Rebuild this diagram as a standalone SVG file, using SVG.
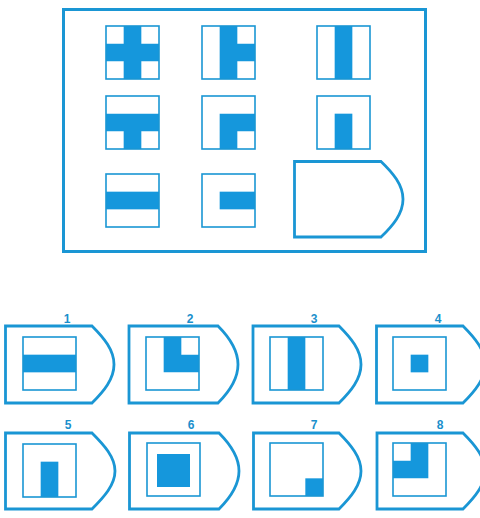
<svg xmlns="http://www.w3.org/2000/svg" width="480" height="518" viewBox="0 0 480 518">
<style>
.frame{fill:none;stroke:#1a96d4;stroke-width:3}
.sh{fill:#fff;stroke:#1a96d4;stroke-width:2.8;stroke-linejoin:miter}
.cell{fill:none;stroke:#1a96d4;stroke-width:1.6}
.b{fill:#1597dc}
.lbl{font-family:"Liberation Sans",Arial,sans-serif;font-weight:bold;font-size:12px;fill:#1a8fcc;text-anchor:middle}
</style>
<rect x="0" y="0" width="480" height="518" fill="#fff"/>
<g id="matrix">
<rect class="frame" x="63.5" y="9.5" width="362" height="242"/>
<g id="m11" transform="translate(106,26)"><path class="b" d="M17.67,0 H35.33 V17.67 H53 V35.33 H35.33 V53 H17.67 V35.33 H0 V17.67 H17.67 Z"/><rect class="cell" width="53" height="53"/></g>
<g id="m12" transform="translate(202,26)"><path class="b" d="M17.67,0 H35.33 V17.67 H53 V35.33 H35.33 V53 H17.67 Z"/><rect class="cell" width="53" height="53"/></g>
<g id="m13" transform="translate(317,26)"><rect class="b" x="17.67" y="0" width="17.67" height="53"/><rect class="cell" width="53" height="53"/></g>
<g id="m21" transform="translate(106,96)"><path class="b" d="M0,17.67 H53 V35.33 H35.33 V53 H17.67 V35.33 H0 Z"/><rect class="cell" width="53" height="53"/></g>
<g id="m22" transform="translate(202,96)"><path class="b" d="M17.67,17.67 H53 V35.33 H35.33 V53 H17.67 Z"/><rect class="cell" width="53" height="53"/></g>
<g id="m23" transform="translate(317,96)"><rect class="b" x="17.67" y="17.67" width="17.67" height="35.33"/><rect class="cell" width="53" height="53"/></g>
<g id="m31" transform="translate(106,174)"><rect class="b" x="0" y="17.67" width="53" height="17.67"/><rect class="cell" width="53" height="53"/></g>
<g id="m32" transform="translate(202,174)"><rect class="b" x="17.67" y="17.67" width="35.33" height="17.67"/><rect class="cell" width="53" height="53"/></g>
<g id="m33"><path class="sh" d="M294.5,161.5 H381 C393,173 403,185 403,199.25 C403,213.5 393,225.5 381,237 H294.5 Z"/></g>
</g>
<g id="connectors"></g>
<g id="opt1">
<path class="sh" d="M5.5,326 H92 C104,338 114,350 114,364.5 C114,379 104,391 92,403 H5.5 Z"/>
<text class="lbl" x="67" y="323">1</text>
<g transform="translate(23,337)"><rect class="b" x="0" y="17.67" width="53" height="17.67"/><rect class="cell" width="53" height="53"/></g>
</g>
<g id="opt2">
<path class="sh" d="M129,326 H218 C230,338 238,350 238,364.5 C238,379 230,391 218,403 H129 Z"/>
<text class="lbl" x="190" y="323">2</text>
<g transform="translate(146,337)"><path class="b" d="M17.67,0 H35.33 V17.67 H53 V35.33 H17.67 Z"/><rect class="cell" width="53" height="53"/></g>
</g>
<g id="opt3">
<path class="sh" d="M253,326 H339 C351,338 361,350 361,364.5 C361,379 351,391 339,403 H253 Z"/>
<text class="lbl" x="314" y="323">3</text>
<g transform="translate(270,337)"><rect class="b" x="17.67" y="0" width="17.67" height="53"/><rect class="cell" width="53" height="53"/></g>
</g>
<g id="opt4">
<path class="sh" d="M376.5,326 H463 C475,338 485,350 485,364.5 C485,379 475,391 463,403 H376.5 Z"/>
<text class="lbl" x="438" y="323">4</text>
<g transform="translate(393,337)"><rect class="b" x="17.67" y="17.67" width="17.67" height="17.67"/><rect class="cell" width="53" height="53"/></g>
</g>
<g id="opt5">
<path class="sh" d="M5.5,433 H92 C104,445 115,457 115,471 C115,485 104,497 92,509 H5.5 Z"/>
<text class="lbl" x="68" y="429">5</text>
<g transform="translate(23,444)"><rect class="b" x="17.67" y="17.67" width="17.67" height="35.33"/><rect class="cell" width="53" height="53"/></g>
</g>
<g id="opt6">
<path class="sh" d="M129.5,433 H219 C231,445 239,457 239,471 C239,485 231,497 219,509 H129.5 Z"/>
<text class="lbl" x="191" y="429">6</text>
<g transform="translate(147,443)"><rect class="b" x="10" y="11" width="33" height="33"/><rect class="cell" width="53" height="53"/></g>
</g>
<g id="opt7">
<path class="sh" d="M253.5,433 H339 C351,445 361,457 361,471 C361,485 351,497 339,509 H253.5 Z"/>
<text class="lbl" x="314" y="429">7</text>
<g transform="translate(270,443)"><rect class="b" x="35.33" y="35.33" width="17.67" height="17.67"/><rect class="cell" width="53" height="53"/></g>
</g>
<g id="opt8">
<path class="sh" d="M377,433 H463 C475,445 485,457 485,471 C485,485 475,497 463,509 H377 Z"/>
<text class="lbl" x="440" y="429">8</text>
<g transform="translate(393,443)"><path class="b" d="M17.67,0 H35.33 V35.33 H0 V17.67 H17.67 Z"/><rect class="cell" width="53" height="53"/></g>
</g>
</svg>
